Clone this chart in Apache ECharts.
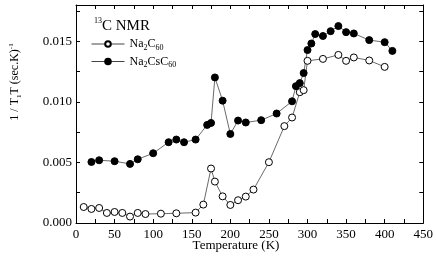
<!DOCTYPE html>
<html>
<head>
<meta charset="utf-8">
<script src="https://cdn.jsdelivr.net/npm/echarts@6/dist/echarts.min.js"></script>
<style>html,body{margin:0;padding:0;background:#fff}#c{width:436px;height:256px}</style>
</head>
<body>
<div id="c"></div>
<script>
var tempA = [10,20,30,40,50,60,70,80,90,110,130,155,165,175,180,190,200,210,220,230,250,270,280,290,295,300,320,340,350,360,380,400];
var valA = [0.00132,0.00116,0.00124,0.00083,0.00091,0.00083,0.00053,0.00083,0.00074,0.00077,0.0008,0.00086,0.00152,0.0045,0.00342,0.0022,0.00149,0.00188,0.00218,0.00276,0.00502,0.008,0.00871,0.0108,0.01097,0.01339,0.01355,0.01388,0.01339,0.01367,0.01342,0.01289];
var tempB = [20,30,50,70,80,100,120,130,140,155,170,175,180,190,200,210,220,240,260,280,285,290,295,300,305,310,320,330,340,350,360,380,400,410];
var valB = [0.00504,0.00518,0.0051,0.00488,0.00526,0.00576,0.00667,0.00689,0.00667,0.00689,0.0081,0.00826,0.01202,0.0101,0.00735,0.00846,0.0083,0.00849,0.00904,0.01005,0.0113,0.01155,0.01238,0.01428,0.01482,0.0156,0.01544,0.01584,0.01626,0.01576,0.01565,0.0151,0.01493,0.01421];
var xTicks = [0,50,100,150,200,250,300,350,400,450];
var yTicks = [0.000,0.005,0.010,0.015];
var nameA = 'Na2C60', nameB = 'Na2CsC60';

function pair(t, v){ return t.map(function(x,i){ return [x, v[i]]; }); }
var F = 'Liberation Serif';
var chart = echarts.init(document.getElementById('c'), null, {renderer:'canvas'});
function axisCommon(){
  return {
    axisLine:{show:true, onZero:false, lineStyle:{color:'#000', width:1}},
    axisTick:{show:true, inside:true, length:4, lineStyle:{color:'#000'}},
    splitLine:{show:false}
  };
}
function xLab(v){ return xTicks.indexOf(v) >= 0 ? String(v) : ''; }
function yLab(v){ for (var i=0;i<yTicks.length;i++){ if (Math.abs(v-yTicks[i])<1e-9) return yTicks[i].toFixed(3);} return ''; }
var richSub = {
  n:{fontFamily:F, fontSize:12, lineHeight:15, color:'#000'},
  s:{fontFamily:F, fontSize:8, lineHeight:8, verticalAlign:'bottom', color:'#000'}
};
chart.setOption({
  animation:false,
  backgroundColor:'#fff',
  grid:{left:76, right:12, top:5, bottom:33},
  xAxis:[
    Object.assign({type:'value', min:0, max:450, interval:25, position:'bottom',
      axisLabel:{formatter:xLab, fontFamily:F, fontSize:13, color:'#000', margin:5}}, axisCommon()),
    Object.assign({type:'value', min:0, max:450, interval:25, position:'top',
      axisLabel:{show:false}}, axisCommon())
  ],
  yAxis:[
    Object.assign({type:'value', min:0, max:0.018, interval:0.0025, position:'left',
      axisLabel:{formatter:yLab, fontFamily:F, fontSize:13, color:'#000', margin:4, showMaxLabel:false}}, axisCommon()),
    Object.assign({type:'value', min:0, max:0.018, interval:0.0025, position:'right',
      axisLabel:{show:false}}, axisCommon())
  ],
  legend:{
    orient:'vertical', left:91, top:38, padding:0, itemWidth:33, itemHeight:7, itemGap:4,
    data:[nameA, nameB],
    lineStyle:{width:1, color:'#444'},
    formatter:function(name){
      return name === nameA ? '{n|Na}{s|2}{n|C}{s|60}' : '{n|Na}{s|2}{n|CsC}{s|60}';
    },
    textStyle:{rich:richSub, fontFamily:F, fontSize:12, color:'#000'}
  },
  graphic:[
    {type:'text', left:94, top:17, style:{text:'{p|13}{m|C NMR}', rich:{
      p:{fontFamily:F, fontSize:8, lineHeight:8, verticalAlign:'top', fill:'#000'},
      m:{fontFamily:F, fontSize:15, lineHeight:18, fill:'#000'}}}},
    {type:'text', x:15, y:82, rotation:Math.PI/2, style:{text:'{m|1 / T}{s|1}{m|T (sec.K)}{p|-1}', align:'center', verticalAlign:'middle', rich:{
      m:{fontFamily:F, fontSize:12, lineHeight:15, fill:'#000'},
      s:{fontFamily:F, fontSize:7, lineHeight:7, verticalAlign:'bottom', fill:'#000'},
      p:{fontFamily:F, fontSize:7, lineHeight:7, verticalAlign:'top', fill:'#000'}}}},
    {type:'text', x:236, y:246, style:{text:'Temperature (K)', align:'center', verticalAlign:'middle', font:'13px "Liberation Serif"', fill:'#000'}}
  ],
  series:[
    {name:nameA, type:'line', data:pair(tempA,valA), symbol:'circle', symbolSize:7,
      lineStyle:{color:'#444', width:0.8},
      itemStyle:{color:'#fff', borderColor:'#000', borderWidth:1}},
    {name:nameB, type:'line', data:pair(tempB,valB), symbol:'circle', symbolSize:7,
      lineStyle:{color:'#444', width:0.8},
      itemStyle:{color:'#000', borderColor:'#000', borderWidth:1}}
  ]
});
</script>
</body>
</html>
